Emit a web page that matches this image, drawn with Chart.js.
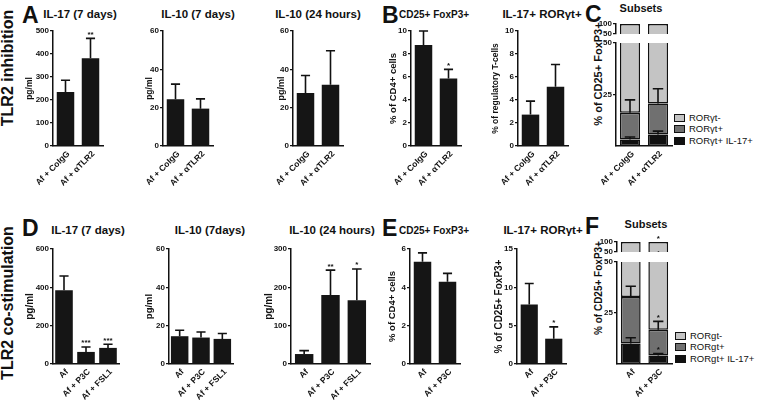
<!DOCTYPE html>
<html>
<head>
<meta charset="utf-8">
<script src="https://cdn.jsdelivr.net/npm/chart.js@4/dist/chart.umd.min.js"></script>
<style>
body { margin:0; width:760px; height:400px; background:#fff; position:relative; overflow:hidden;
       font-family:"Liberation Sans", Arial, sans-serif; font-weight:bold; color:#111; }
.t  { position:absolute; font-size:11.5px; line-height:1; white-space:nowrap; transform:translateX(-50%); }
.tl { position:absolute; font-size:10px; line-height:1; white-space:nowrap; }
.L  { position:absolute; font-size:23px; line-height:1; }
.vt { position:absolute; white-space:nowrap; line-height:1; transform:translate(-50%,-50%) rotate(-90deg); }
.lg { position:absolute; font-size:9.5px; font-weight:normal; line-height:10px; white-space:nowrap; display:flex; align-items:center; }
.lg i { display:inline-block; width:9px; height:6px; border:1.5px solid #111; margin-right:4px; }
canvas { position:absolute; }
</style>
</head>
<body>
<div class="vt" style="left:8px;top:68px;font-size:16px">TLR2 inhibition</div>
<div class="vt" style="left:8px;top:303px;font-size:16px">TLR2 co-stimulation</div>

<div class="L" style="left:22px;top:4px">A</div>
<div class="t" style="left:80px;top:9px">IL-17 (7 days)</div>
<div class="t" style="left:198px;top:9px">IL-10 (7 days)</div>
<div class="t" style="left:318px;top:9px">IL-10 (24 hours)</div>
<div class="L" style="left:382px;top:4px">B</div>
<div class="tl" style="left:399px;top:10px">CD25+ FoxP3+</div>
<div class="t" style="left:542px;top:9px">IL-17+ RORγt+</div>
<div class="L" style="left:585px;top:3px">C</div>
<div class="t" style="left:641px;top:3px;font-size:11px">Subsets</div>

<div class="L" style="left:22px;top:217px">D</div>
<div class="t" style="left:88px;top:225px">IL-17 (7 days)</div>
<div class="t" style="left:210px;top:225px">IL-10 (7days)</div>
<div class="t" style="left:332px;top:225px">IL-10 (24 hours)</div>
<div class="L" style="left:382px;top:217px">E</div>
<div class="tl" style="left:399px;top:226px">CD25+ FoxP3+</div>
<div class="t" style="left:543px;top:225px">IL-17+ RORγt+</div>
<div class="L" style="left:585px;top:215px">F</div>
<div class="t" style="left:646px;top:219px;font-size:11px">Subsets</div>

<div class="vt" style="left:598px;top:74px;font-size:11px">% of CD25+ FoxP3+</div>
<div class="vt" style="left:599px;top:288px;font-size:10px">% of CD25+ FoxP3+</div>

<div class="lg" style="left:674px;top:113px"><i style="background:#c4c4c4"></i>RORγt-</div>
<div class="lg" style="left:674px;top:124px"><i style="background:#707070"></i>RORγt+</div>
<div class="lg" style="left:674px;top:136px"><i style="background:#111"></i>RORγt+ IL-17+</div>
<div class="lg" style="left:675px;top:331px"><i style="background:#c4c4c4"></i>RORgt-</div>
<div class="lg" style="left:675px;top:342px"><i style="background:#707070"></i>RORgt+</div>
<div class="lg" style="left:675px;top:354px"><i style="background:#111"></i>RORgt+ IL-17+</div>

<script>
// categories
const catsInhib = ['Af + CoIgG', 'Af + αTLR2'];
const catsCo3 = ['Af', 'Af + P3C', 'Af + FSL1'];
const catsCo2 = ['Af', 'Af + P3C'];

// A - TLR2 inhibition, cytokines (mean, SEM)
const il17_7d = [235, 381];
const il17_7d_err = [51, 87];
const il10_7d = [24.4, 19.5];
const il10_7d_err = [7.9, 5.1];
const il10_24h = [27.7, 31.9];
const il10_24h_err = [9.1, 17.8];

// B - Treg frequencies
const treg = [8.78, 5.87];
const treg_err = [1.22, 0.79];
const il17Ror = [2.73, 5.15];
const il17Ror_err = [1.17, 1.94];

// C - subsets (stacked, %)
const cRorIl17 = [3.1, 5.6];
const cRorIl17_err = [1.3, 1.6];
const cRorPos = [13.1, 15.0];
const cRorPos_err = [6.2, 7.2];
const cRorNeg = [83.8, 79.4];

// D - TLR2 co-stimulation, cytokines
const co_il17_7d = [385, 63, 84];
const co_il17_7d_err = [74, 26, 19];
const co_il10_7d = [14.5, 13.8, 13.1];
const co_il10_7d_err = [3.1, 2.9, 2.8];
const co_il10_24h = [26, 180, 166];
const co_il10_24h_err = [9, 65, 82];

// E - Treg frequencies
const co_treg = [5.34, 4.29];
const co_treg_err = [0.46, 0.44];
const co_il17Ror = [7.76, 3.3];
const co_il17Ror_err = [2.74, 1.54];

// F - subsets
const fRorIl17 = [10.0, 4.2];
const fRorIl17_err = [2.9, 0.9];
const fRorPos = [22.8, 12.6];
const fRorPos_err = [5.3, 4.1];
const fRorNeg = [67.2, 83.2];

const INK = '#111';
const PAD_L = 12, PAD_T = 9;
const FONT = '"Liberation Sans", Arial';

// error bars + significance stars
const errPlugin = {
    id: 'errbars',
    afterDatasetsDraw(chart) {
        const ctx = chart.ctx, ys = chart.scales.y, a = chart.chartArea;
        ctx.save();
        ctx.beginPath();
        ctx.rect(a.left - 10, a.top - PAD_T, a.right - a.left + 20, a.bottom - a.top + PAD_T);
        ctx.clip();
        chart.data.datasets.forEach((ds, i) => {
            if (!ds.err && !ds.stars) return;
            chart.getDatasetMeta(i).data.forEach((el, j) => {
                const v = ys.getValueForPixel(el.y);
                const yTop = ys.getPixelForValue(v + (ds.err ? ds.err[j] : 0));
                const cw = el.width * 0.26;
                if (ds.err) {
                    ctx.strokeStyle = INK;
                    ctx.lineWidth = 1.6;
                    ctx.beginPath();
                    ctx.moveTo(el.x, el.y);
                    ctx.lineTo(el.x, yTop);
                    ctx.moveTo(el.x - cw, yTop);
                    ctx.lineTo(el.x + cw, yTop);
                    ctx.stroke();
                }
                if (ds.stars && ds.stars[j]) {
                    ctx.fillStyle = INK;
                    ctx.font = 'bold 8px ' + FONT;
                    ctx.textAlign = 'center';
                    ctx.textBaseline = 'alphabetic';
                    ctx.fillText(ds.stars[j], el.x, yTop - 1.5);
                }
            });
        });
        ctx.restore();
    }
};

function solid(data, err, stars) {
    return { data: data, err: err, stars: stars, backgroundColor: '#151515', borderWidth: 0,
             barPercentage: 0.7, categoryPercentage: 1 };
}

function subsets(ril, rilErr, rpos, rposErr, rneg, clip, stars) {
    const base = { borderColor: INK, borderWidth: 1.5, borderSkipped: false,
                   barPercentage: 0.72, categoryPercentage: 1, clip: clip };
    stars = stars || {};
    return [
        Object.assign({ data: ril, err: rilErr, stars: stars.ril, backgroundColor: '#111' }, base),
        Object.assign({ data: rpos, err: rposErr, stars: stars.rpos, backgroundColor: '#707070' }, base),
        Object.assign({ data: rneg, stars: stars.rneg, backgroundColor: '#c4c4c4' }, base)
    ];
}

function panel(o) {
    const yw = o.yw;
    const xh = o.noX ? 0 : 48;
    const padB = o.noX ? 3 : 0;
    const padR = 3;
    const w = PAD_L + yw + (o.rx - o.ax) + padR;
    const h = PAD_T + (o.by - o.ty) + xh + padB;
    const cv = document.createElement('canvas');
    cv.width = w; cv.height = h;
    cv.style.left = (o.ax - yw - PAD_L) + 'px';
    cv.style.top = (o.ty - PAD_T) + 'px';
    cv.style.width = w + 'px';
    cv.style.height = h + 'px';
    document.body.appendChild(cv);
    if (o.barPct) o.datasets.forEach(d => d.barPercentage = o.barPct);
    return new Chart(cv, {
        type: 'bar',
        data: { labels: o.labels, datasets: o.datasets },
        options: {
            responsive: false,
            animation: false,
            layout: { padding: { left: PAD_L, top: PAD_T, right: padR, bottom: padB } },
            plugins: { legend: { display: false }, tooltip: { enabled: false } },
            scales: {
                x: {
                    display: !o.noX,
                    stacked: !!o.stacked,
                    grid: { display: false, drawTicks: false },
                    border: { display: true, color: INK, width: 1.5 },
                    ticks: { color: INK, font: { size: 8.5, weight: 'bold', family: FONT },
                             minRotation: 45, maxRotation: 45, autoSkip: false, padding: 3, labelOffset: 3 },
                    afterFit: s => { s.height = xh; s.paddingLeft = 0; s.paddingRight = 0; }
                },
                y: {
                    stacked: !!o.stacked,
                    min: o.min, max: o.max,
                    grid: { drawOnChartArea: false, color: INK, lineWidth: 1.2, tickLength: 3 },
                    border: { display: true, color: INK, width: 1.5 },
                    ticks: { stepSize: o.step, color: INK, padding: 1, autoSkip: false,
                             font: { size: 8, weight: 'bold', family: FONT } },
                    title: { display: !!o.ytitle, text: o.ytitle, color: INK, padding: { top: 4, bottom: 0 },
                             font: { size: o.ytSize || 9, weight: 'bold', family: FONT } },
                    afterBuildTicks: o.tickVals ? (s => { s.ticks = o.tickVals.map(v => ({ value: v })); }) : undefined,
                    afterFit: s => { s.width = yw; s.paddingTop = 0; s.paddingBottom = 0; }
                }
            }
        },
        plugins: [errPlugin]
    });
}

function yw(off, size) { return Math.round(off + 4 + 0.6 * size); }

const clipUpper = { left: 5, right: 5, top: 2, bottom: 0 };
const clipLower = { left: 5, right: 5, top: 0, bottom: 2 };

// ---- top row: TLR2 inhibition
panel({ ax: 53, rx: 103, ty: 31, by: 146, min: 0, max: 500, step: 100, labels: catsInhib,
        datasets: [solid(il17_7d, il17_7d_err, ['', '**'])], ytitle: 'pg/ml', ytSize: 8.5, yw: yw(23, 8.5) });
panel({ ax: 163, rx: 213, ty: 31, by: 146, min: 0, max: 60, step: 20, labels: catsInhib,
        datasets: [solid(il10_7d, il10_7d_err)], ytitle: 'pg/ml', ytSize: 8.5, yw: yw(13, 8.5) });
panel({ ax: 293, rx: 343, ty: 31, by: 146, min: 0, max: 60, step: 20, labels: catsInhib,
        datasets: [solid(il10_24h, il10_24h_err)], ytitle: 'pg/ml', ytSize: 9, yw: yw(12, 9) });
panel({ ax: 411, rx: 461, ty: 31, by: 146, min: 0, max: 10, step: 2, labels: catsInhib,
        datasets: [solid(treg, treg_err, ['', '*'])], ytitle: '% of CD4+ cells', ytSize: 9.5, yw: yw(17, 9.5) });
panel({ ax: 518, rx: 568, ty: 31, by: 146, min: 0, max: 10, step: 2, labels: catsInhib,
        datasets: [solid(il17Ror, il17Ror_err)], ytitle: '% of regulatory T-cells', ytSize: 8.5, yw: yw(22, 8.5) });
// C broken axis: upper 50-100, lower 0-50
panel({ ax: 616, rx: 672, ty: 24, by: 34, min: 50, max: 100, labels: catsInhib, stacked: true, noX: true,
        tickVals: [50, 100],
        datasets: subsets(cRorIl17, cRorIl17_err, cRorPos, cRorPos_err, cRorNeg, clipUpper), yw: 20 });
panel({ ax: 616, rx: 672, ty: 43, by: 146, min: 0, max: 50, labels: catsInhib, stacked: true,
        tickVals: [25, 50],
        datasets: subsets(cRorIl17, cRorIl17_err, cRorPos, cRorPos_err, cRorNeg, clipLower), yw: 20 });

// ---- bottom row: TLR2 co-stimulation
panel({ ax: 53, rx: 119, ty: 249, by: 364, min: 0, max: 600, step: 200, labels: catsCo3, barPct: 0.8,
        datasets: [solid(co_il17_7d, co_il17_7d_err, ['', '***', '***'])], ytitle: 'pg/ml', ytSize: 10, yw: yw(23, 10) });
panel({ ax: 169, rx: 233, ty: 249, by: 364, min: 0, max: 60, step: 20, labels: catsCo3, barPct: 0.82,
        datasets: [solid(co_il10_7d, co_il10_7d_err)], ytitle: 'pg/ml', ytSize: 9.5, yw: yw(19, 9.5) });
panel({ ax: 291, rx: 370, ty: 249, by: 364, min: 0, max: 300, step: 100, labels: catsCo3, barPct: 0.7,
        datasets: [solid(co_il10_24h, co_il10_24h_err, ['', '**', '*'])], ytitle: 'pg/ml', ytSize: 10, yw: yw(22, 10) });
panel({ ax: 410, rx: 460, ty: 249, by: 364, min: 0, max: 6, step: 2, labels: catsCo2,
        datasets: [solid(co_treg, co_treg_err)], ytitle: '% of CD4+ cells', ytSize: 9.5, yw: yw(17, 9.5) });
panel({ ax: 517, rx: 566, ty: 249, by: 364, min: 0, max: 15, step: 5, labels: catsCo2,
        datasets: [solid(co_il17Ror, co_il17Ror_err, ['', '*'])], ytitle: '% of CD25+ FoxP3+', ytSize: 10, yw: yw(18, 10) });
// F broken axis
const fStars = { ril: ['', '*'], rpos: ['', '*'], rneg: ['', '*'] };
panel({ ax: 617, rx: 672, ty: 242, by: 252, min: 50, max: 100, labels: catsCo2, stacked: true, noX: true,
        tickVals: [50, 100],
        datasets: subsets(fRorIl17, fRorIl17_err, fRorPos, fRorPos_err, fRorNeg, clipUpper, fStars), yw: 20 });
panel({ ax: 617, rx: 672, ty: 262, by: 364, min: 0, max: 50, labels: catsCo2, stacked: true,
        tickVals: [25, 50],
        datasets: subsets(fRorIl17, fRorIl17_err, fRorPos, fRorPos_err, fRorNeg, clipLower, fStars), yw: 20 });
</script>
</body>
</html>
